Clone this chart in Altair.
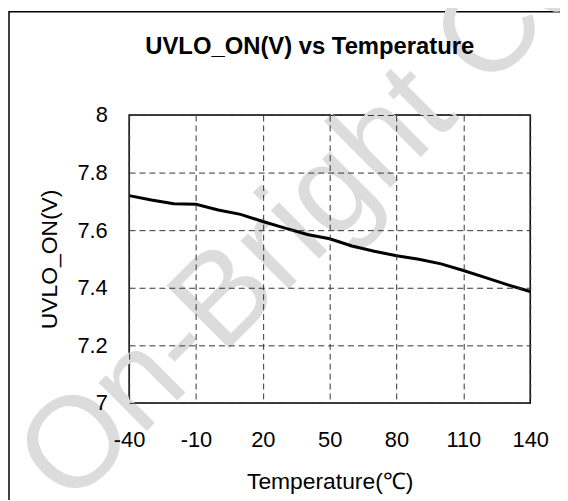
import altair as alt
import pandas as pd

temps = [-40, -30, -20, -10, 0, 10, 20, 30, 40, 50, 60, 70, 80, 90, 100, 110, 120, 130, 140]
uvlo = [7.72, 7.705, 7.692, 7.69, 7.67, 7.655, 7.63, 7.607, 7.585, 7.57, 7.545, 7.527, 7.511,
        7.499, 7.483, 7.46, 7.435, 7.41, 7.387]
x_ticks = [-40, -10, 20, 50, 80, 110, 140]
y_ticks = [7, 7.2, 7.4, 7.6, 7.8, 8]
title_text = ["UVLO_ON(V) vs Temperature"]
watermark_text = ["On-Bright Confidential"]

FONT = "Liberation Sans"

df = pd.DataFrame({"T": temps, "V": uvlo})

axis_common = dict(
    grid=True, gridDash=[6, 4], gridColor="#333333", gridWidth=1,
    ticks=False, tickSize=0, domain=False, labelFlush=False,
    labelFontSize=22, labelFont=FONT, labelColor="black",
    titleFontSize=23, titleFont=FONT, titleFontWeight="normal", titleColor="black",
    zindex=1,
)

line = alt.Chart(df).mark_line(color="black", strokeWidth=3).encode(
    x=alt.X("T:Q", scale=alt.Scale(domain=[-40, 140], nice=False, zero=False),
            axis=alt.Axis(values=x_ticks, title="Temperature(℃)", labelExpr="datum.value + ''",
                          labelPadding=27, titlePadding=20, **axis_common)),
    y=alt.Y("V:Q", scale=alt.Scale(domain=[7, 8], nice=False, zero=False),
            axis=alt.Axis(values=y_ticks, title="UVLO_ON(V)", labelExpr="datum.value + ''",
                          labelPadding=22, titlePadding=16, **axis_common)),
)

watermark = alt.Chart(pd.DataFrame({"t": watermark_text})).mark_text(
    angle=315, align="left", baseline="alphabetic", fontSize=130, color="#dcdcdc", font=FONT
).encode(x=alt.value(-60), y=alt.value(396), text="t:N")

title = alt.Chart(pd.DataFrame({"t": title_text})).mark_text(
    align="center", baseline="alphabetic", fontSize=24, fontWeight="bold", color="black", font=FONT
).encode(x=alt.value(182), y=alt.value(-61), text="t:N")

border = alt.Chart(pd.DataFrame({"a": [0]})).mark_rect(
    fillOpacity=0, stroke="black", strokeWidth=1.5
).encode(x=alt.value(-121), x2=alt.value(600), y=alt.value(-104), y2=alt.value(500))

chart = alt.layer(border, watermark, title, line).properties(
    width=404, height=290,
    autosize=alt.AutoSizeParams(type="none"),
    padding={"left": 122, "top": 106, "right": 30, "bottom": 96},
).configure_view(stroke="black", strokeWidth=1.5)

chart.save("out.html", embed_options={"renderer": "svg", "actions": False})
